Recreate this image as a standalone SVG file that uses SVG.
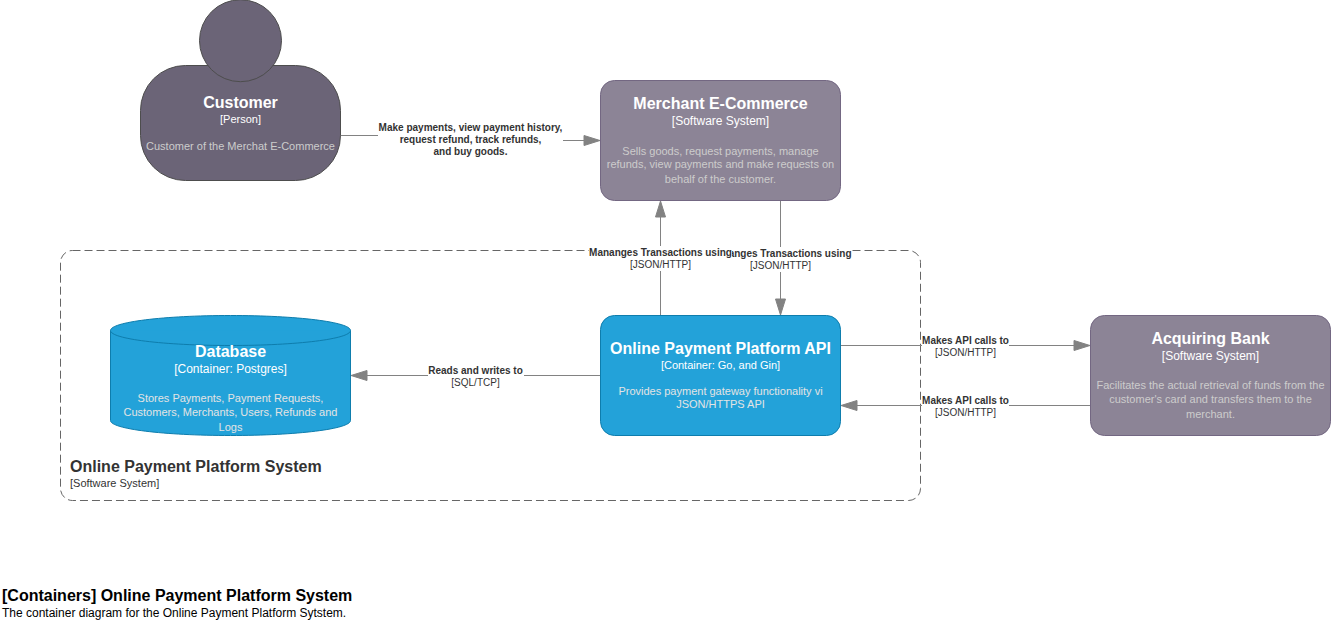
<svg xmlns="http://www.w3.org/2000/svg" width="1331" height="622" viewBox="0 0 1331 622">
<style>
text{font-family:"Liberation Sans",Arial,Helvetica,sans-serif;text-anchor:middle}
.t{font-size:16px;font-weight:700;fill:#fff}
.s{font-size:12px;fill:#fff}
.s2{font-size:11px;fill:#fff}
.d{font-size:11px;fill:#ccc}
.dc{font-size:11px;fill:#e4e4e4}
.l{font-size:10px;font-weight:700;fill:#333}
.m{font-size:10px;fill:#333}
.c{stroke:#828282;stroke-width:1;fill:none}
.bg{fill:#fff}
.ah{fill:#828282;stroke:#828282}
.per{fill:#6b6477;stroke:#4d4d4d}
.sys{fill:#8c8496;stroke:#736782}
.con{fill:#23a2d9;stroke:#0e7dad}
</style>
<g id="boundary">
<rect x="60.500" y="250.500" width="860" height="250" rx="12" fill="none" stroke="#666" stroke-dasharray="8 4"/>
<text x="70" y="472" style="font-size:16px;font-weight:700;fill:#333;text-anchor:start">Online Payment Platform System</text>
<text x="70" y="487" style="font-size:11px;fill:#333;text-anchor:start">[Software System]</text>
</g>
<g id="connectors">
<g id="c1">
<path class="c" d="M340.500 135.500H470.500V140.500H586"/>
<path class="ah" d="M600 140.500L584 135.500L584 145.500Z"/>
<rect class="bg" x="378" y="122" width="185" height="36"/>
<text class="l" x="470.500" y="131">Make payments, view payment history,</text>
<text class="l" x="470.500" y="143">request refund, track refunds,</text>
<text class="l" x="470.500" y="155">and buy goods.</text>
</g>
<g id="c2">
<path class="c" d="M780.500 200.500V304"/>
<path class="ah" d="M780.500 315L775.500 299L785.500 299Z"/>
<rect class="bg" x="732" y="247" width="120" height="25"/>
<text class="l" x="851.500" y="257" style="text-anchor:end">anges Transactions using</text>
<text class="m" x="780.500" y="269">[JSON/HTTP]</text>
</g>
<g id="c3">
<path class="c" d="M660.500 315.500V212"/>
<path class="ah" d="M660.500 201L655.500 217L665.500 217Z"/>
<rect class="bg" x="589" y="246" width="143" height="25"/>
<text class="l" x="660.500" y="256">Mananges Transactions using</text>
<text class="m" x="660.500" y="268">[JSON/HTTP]</text>
</g>
<g id="c4">
<path class="c" d="M600.500 375.500H362"/>
<path class="ah" d="M351 375.500L367 370.500L367 380.500Z"/>
<rect class="bg" x="428" y="364" width="96" height="25"/>
<text class="l" x="475.500" y="374">Reads and writes to</text>
<text class="m" x="475.500" y="386">[SQL/TCP]</text>
</g>
<g id="c5">
<path class="c" d="M840.500 345.500H1079"/>
<path class="ah" d="M1090 345.500L1074 340.500L1074 350.500Z"/>
<rect class="bg" x="922" y="334" width="87" height="25"/>
<text class="l" x="965.500" y="344">Makes API calls to</text>
<text class="m" x="965.500" y="356">[JSON/HTTP]</text>
</g>
<g id="c6">
<path class="c" d="M1090.500 405.500H852"/>
<path class="ah" d="M841 405.500L857 400.500L857 410.500Z"/>
<rect class="bg" x="922" y="394" width="87" height="25"/>
<text class="l" x="965.500" y="404">Makes API calls to</text>
<text class="m" x="965.500" y="416">[JSON/HTTP]</text>
</g>
</g>
<g id="customer">
<rect class="per" x="140.500" y="65.500" width="200" height="115" rx="45"/>
<circle class="per" cx="240.500" cy="40.700" r="41"/>
<text class="t" x="240.500" y="108">Customer</text>
<text class="s2" x="240.500" y="123">[Person]</text>
<text class="d" x="240.500" y="150">Customer of the Merchat E-Commerce</text>
</g>
<g id="merchant">
<rect class="sys" x="600.500" y="80.500" width="240" height="120" rx="14"/>
<text class="t" x="720.500" y="109">Merchant E-Commerce</text>
<text class="s" x="720.500" y="125">[Software System]</text>
<text class="d" x="720.500" y="155">Sells goods, request payments, manage</text>
<text class="d" x="720.500" y="168">refunds, view payments and make requests on</text>
<text class="d" x="720.500" y="183">behalf of the customer.</text>
</g>
<g id="api">
<rect class="con" x="600.500" y="315.500" width="240" height="120" rx="14"/>
<text class="t" x="720.500" y="354">Online Payment Platform API</text>
<text class="s2" x="720.500" y="369">[Container: Go, and Gin]</text>
<text class="dc" x="720.500" y="395">Provides payment gateway functionality vi</text>
<text class="dc" x="720.500" y="408">JSON/HTTPS API</text>
</g>
<g id="database">
<path class="con" d="M110.500 330.500C110.500 322 164 315.500 230.500 315.500C297 315.500 350.500 322 350.500 330.500V420.500C350.500 429 297 435.500 230.500 435.500C164 435.500 110.500 429 110.500 420.500Z"/>
<path class="con" d="M110.500 330.500C110.500 339 164 345.500 230.500 345.500C297 345.500 350.500 339 350.500 330.500" fill="none"/>
<text class="t" x="230.500" y="357">Database</text>
<text class="s" x="230.500" y="373">[Container: Postgres]</text>
<text class="dc" x="230.500" y="402">Stores Payments, Payment Requests,</text>
<text class="dc" x="230.500" y="416">Customers, Merchants, Users, Refunds and</text>
<text class="dc" x="230.500" y="431">Logs</text>
</g>
<g id="bank">
<rect class="sys" x="1090.500" y="315.500" width="240" height="120" rx="14"/>
<text class="t" x="1210.500" y="344">Acquiring Bank</text>
<text class="s" x="1210.500" y="360">[Software System]</text>
<text class="d" x="1210.500" y="389">Facilitates the actual retrieval of funds from the</text>
<text class="d" x="1210.500" y="403">customer's card and transfers them to the</text>
<text class="d" x="1210.500" y="418">merchant.</text>
</g>
<g id="title">
<text x="2" y="601" style="font-size:16px;font-weight:700;fill:#000;text-anchor:start">[Containers] Online Payment Platform System</text>
<text x="2" y="617" style="font-size:12px;fill:#000;text-anchor:start">The container diagram for the Online Payment Platform Sytstem.</text>
</g>
</svg>
